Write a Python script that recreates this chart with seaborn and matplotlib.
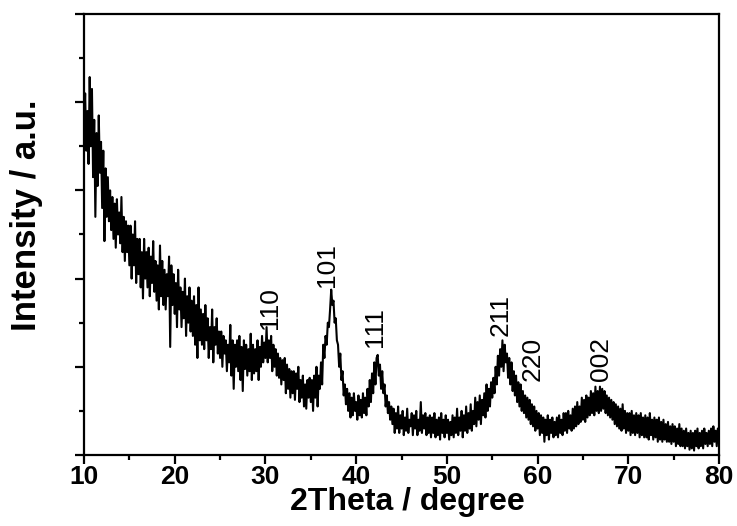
import numpy as np
import pandas as pd
import matplotlib
matplotlib.use('Agg')
import matplotlib.pyplot as plt
from matplotlib.ticker import MultipleLocator, NullFormatter
import seaborn as sns

# XRD pattern, one row per degree (steps of 0.125 deg)
two_theta = np.linspace(10, 80, 561)
intensity = [
    7.4, 8.2, 6.9, 7.8, 6.6, 8.57, 7.0, 8.3,
    6.3, 7.6, 5.4, 7.3, 6.1, 7.7, 6.4, 7.1,
    5.6, 6.9, 4.85, 6.5, 5.4, 6.3, 5.3, 6.0,
    5.1, 5.85, 4.9, 5.7, 4.7, 5.8, 5.0, 5.5,
    4.8, 5.85, 4.6, 5.4, 4.4, 5.3, 4.6, 5.2,
    4.3, 5.2, 4.0, 5.0, 4.3, 5.3, 3.9, 4.9,
    4.1, 4.9, 3.8, 4.6, 3.55, 4.9, 4.0, 4.6,
    3.8, 4.7, 3.6, 4.5, 3.9, 4.85, 3.7, 4.4,
    3.5, 4.3, 3.3, 4.75, 3.6, 4.4, 3.4, 4.2,
    3.3, 4.1, 3.6, 4.5, 2.45, 4.3, 3.4, 4.1,
    3.2, 3.9, 2.9, 4.2, 3.3, 3.8, 2.9, 3.7,
    3.1, 4.0, 2.7, 3.6, 3.0, 3.8, 2.8, 3.5,
    2.7, 3.6, 2.5, 3.4, 2.2, 3.8, 2.6, 3.3,
    2.5, 3.2, 2.4, 3.4, 2.6, 3.1, 2.2, 2.9,
    2.4, 3.3, 2.1, 2.9, 2.5, 3.1, 2.3, 2.8,
    2.2, 2.8, 2.0, 2.7, 2.3, 2.6, 1.9, 2.5,
    2.1, 2.95, 1.8, 2.6, 1.5, 2.5, 2.0, 2.6,
    1.9, 2.7, 1.7, 2.45, 1.45, 2.6, 1.95, 2.5,
    1.8, 2.4, 1.9, 2.75, 1.7, 2.5, 1.85, 2.4,
    1.9, 2.6, 1.7, 2.45, 2.0, 2.7, 2.1, 2.55,
    2.2, 2.9, 2.1, 2.6, 2.2, 2.7, 1.9, 2.5,
    2.0, 2.4, 1.8, 2.3, 1.75, 2.2, 1.6, 2.15,
    1.7, 2.2, 1.4, 2.05, 1.5, 1.95, 1.3, 1.9,
    1.4, 1.9, 1.25, 1.85, 1.5, 2.0, 1.2, 1.7,
    1.3, 1.8, 1.1, 1.6, 1.05, 1.7, 1.3, 1.75,
    1.2, 1.7, 1.0, 1.8, 1.3, 2.0, 1.1, 1.8,
    1.5, 2.1, 1.6, 2.5, 2.2, 2.7, 2.5, 3.0,
    2.9, 3.3, 3.75, 3.4, 3.5, 3.0, 3.1, 2.6,
    2.5, 2.0, 2.3, 1.7, 1.9, 1.35, 1.6, 1.15,
    1.5, 1.0, 1.4, 0.85, 1.3, 0.9, 1.4, 1.0,
    1.2, 0.8, 1.35, 0.9, 1.25, 0.85, 1.4, 0.95,
    1.3, 0.9, 1.5, 1.1, 1.7, 1.2, 1.85, 1.4,
    2.1, 1.6, 2.2, 2.27, 1.8, 2.05, 1.5, 1.9,
    1.4, 1.6, 1.1, 1.35, 0.95, 1.2, 0.8, 1.1,
    0.7, 1.05, 0.5, 0.95, 0.6, 1.1, 0.5, 0.9,
    0.6, 1.0, 0.45, 0.85, 0.55, 1.05, 0.5, 0.8,
    0.65, 0.95, 0.45, 0.9, 0.6, 1.0, 0.45, 0.8,
    0.55, 1.2, 0.5, 0.9, 0.6, 0.95, 0.45, 0.85,
    0.5, 0.9, 0.4, 0.85, 0.5, 0.95, 0.4, 0.8,
    0.45, 0.85, 0.35, 0.95, 0.5, 0.8, 0.4, 0.9,
    0.5, 0.8, 0.35, 0.75, 0.45, 0.9, 0.4, 0.85,
    0.5, 1.05, 0.45, 0.85, 0.55, 1.0, 0.4, 0.9,
    0.55, 1.1, 0.5, 0.95, 0.6, 1.15, 0.55, 1.0,
    0.7, 1.3, 0.65, 1.2, 0.8, 1.35, 0.7, 1.25,
    0.9, 1.4, 0.85, 1.6, 1.0, 1.5, 1.1, 1.65,
    1.3, 1.75, 1.4, 2.0, 1.6, 2.25, 1.8, 2.4,
    2.0, 2.6, 1.9, 2.5, 2.1, 2.3, 1.75, 2.2,
    1.6, 2.1, 1.45, 1.9, 1.35, 1.8, 1.2, 1.65,
    1.1, 1.6, 1.0, 1.45, 0.95, 1.35, 0.85, 1.3,
    0.8, 1.25, 0.7, 1.15, 0.65, 1.1, 0.55, 1.0,
    0.6, 0.95, 0.45, 0.9, 0.5, 0.85, 0.3, 0.8,
    0.45, 0.9, 0.35, 0.8, 0.5, 0.85, 0.4, 0.75,
    0.45, 0.85, 0.4, 0.9, 0.5, 0.8, 0.45, 0.95,
    0.55, 0.95, 0.5, 1.0, 0.6, 0.9, 0.55, 1.05,
    0.6, 1.1, 0.65, 1.2, 0.7, 1.1, 0.75, 1.3,
    0.8, 1.25, 0.75, 1.35, 0.85, 1.3, 0.9, 1.45,
    0.95, 1.4, 0.9, 1.55, 1.0, 1.45, 0.95, 1.55,
    1.0, 1.5, 1.05, 1.45, 0.95, 1.35, 0.9, 1.3,
    0.85, 1.25, 0.8, 1.2, 0.7, 1.15, 0.65, 1.1,
    0.6, 1.05, 0.55, 1.15, 0.6, 1.0, 0.5, 0.95,
    0.55, 0.95, 0.45, 1.0, 0.5, 0.9, 0.45, 0.95,
    0.5, 0.9, 0.4, 0.95, 0.45, 0.85, 0.4, 0.9,
    0.4, 0.85, 0.35, 0.95, 0.45, 0.8, 0.35, 0.85,
    0.4, 0.8, 0.3, 0.85, 0.35, 0.75, 0.3, 0.8,
    0.35, 0.7, 0.3, 0.75, 0.3, 0.65, 0.25, 0.7,
    0.3, 0.65, 0.2, 0.6, 0.25, 0.7, 0.2, 0.6,
    0.2, 0.55, 0.15, 0.6, 0.2, 0.5, 0.12, 0.55,
    0.15, 0.5, 0.1, 0.55, 0.2, 0.6, 0.15, 0.5,
    0.2, 0.55, 0.15, 0.6, 0.25, 0.5, 0.2, 0.55,
    0.25, 0.6, 0.2, 0.65, 0.3, 0.55, 0.2, 0.6,
    0.35,
]

# peak labels (hkl) and where they sit
hkl_labels = ['110', '101', '111', '211', '220', '002']
hkl_x = [30.5, 36.8, 42.1, 55.9, 59.4, 67.0]
hkl_y = [2.85, 3.8, 2.45, 2.7, 1.68, 1.68]

df = pd.DataFrame({'two_theta': two_theta, 'intensity': intensity})

sns.set_style('ticks')
plt.rcParams['font.family'] = ['Liberation Sans', 'DejaVu Sans']
plt.rcParams.update({'text.color': 'black', 'axes.labelcolor': 'black',
                     'xtick.color': 'black', 'ytick.color': 'black',
                     'axes.edgecolor': 'black'})

fig = plt.figure(figsize=(7.37, 5.26), dpi=100)
ax = fig.add_axes([0.114, 0.135, 0.8616, 0.8384])

sns.lineplot(data=df, x='two_theta', y='intensity', color='black',
             linewidth=1.5, estimator=None, sort=False, ax=ax)

for lab, xx, yy in zip(hkl_labels, hkl_x, hkl_y):
    ax.text(xx, yy, lab, rotation=90, ha='center', va='bottom', fontsize=19)

ax.set_xlim(10, 80)
ax.set_ylim(0, 10)
ax.xaxis.set_major_locator(MultipleLocator(10))
ax.xaxis.set_minor_locator(MultipleLocator(5))
ax.yaxis.set_major_locator(MultipleLocator(2))
ax.yaxis.set_minor_locator(MultipleLocator(1))
ax.yaxis.set_major_formatter(NullFormatter())

for side in ['top', 'right', 'left', 'bottom']:
    ax.spines[side].set_visible(True)
    ax.spines[side].set_linewidth(1.6)
    ax.spines[side].set_color('black')
ax.tick_params(which='major', direction='out', length=6.5, width=1.6,
               top=False, right=False, colors='black')
ax.tick_params(which='minor', direction='out', length=3.5, width=1.6,
               top=False, right=False, colors='black')
ax.tick_params(axis='x', labelsize=19, pad=1)
for t in ax.get_xticklabels():
    t.set_fontweight('bold')

ax.set_xlabel('2Theta / degree', fontsize=23, fontweight='bold')
ax.xaxis.set_label_coords(0.51, -0.073)
ax.set_ylabel('Intensity / a.u.', fontsize=25, fontweight='bold')
ax.yaxis.set_label_coords(-0.064, 0.544)

fig.savefig('out.png', dpi=100)
